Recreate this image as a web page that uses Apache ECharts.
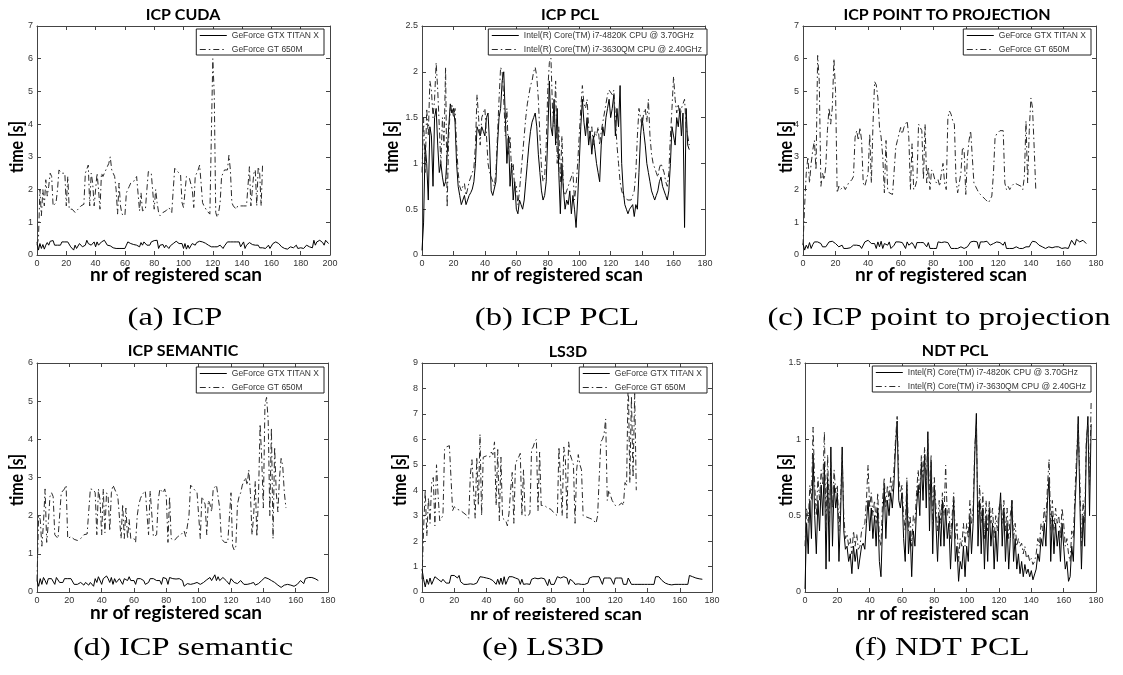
<!DOCTYPE html>
<html><head><meta charset="utf-8">
<script src="https://cdn.jsdelivr.net/npm/echarts@6/dist/echarts.min.js"></script>
<style>html,body{margin:0;padding:0;background:#fff}#c{width:1123px;height:675px}</style>
</head><body><div id="c"></div>
<script>
// ---------- series names ----------
const gpuNames = ['GeForce GTX TITAN X', 'GeForce GT 650M'];
const cpuNames = ['Intel(R) Core(TM) i7-4820K CPU @ 3.70GHz', 'Intel(R) Core(TM) i7-3630QM CPU @ 2.40GHz'];

// ---------- (a) ICP CUDA ----------
const cudaTitan = [0.40,0.15,0.35,0.20,0.32,0.18,0.30,0.38,0.30,0.42,
0.45,0.44,0.30,0.28,0.30,0.25,0.30,0.40,0.38,0.40,
0.35,0.40,0.38,0.25,0.30,0.15,0.30,0.20,0.22,0.35,
0.30,0.25,0.20,0.30,0.45,0.35,0.40,0.30,0.35,0.40,
0.25,0.40,0.30,0.25,0.40,0.35,0.45,0.42,0.30,0.35,
0.28,0.25,0.22,0.25,0.20,0.22,0.20,0.20,0.20,0.22,
0.20,0.30,0.40,0.38,0.35,0.35,0.32,0.35,0.30,0.35,
0.25,0.38,0.30,0.40,0.35,0.30,0.25,0.30,0.40,0.45,
0.44,0.42,0.45,0.20,0.30,0.25,0.32,0.22,0.30,0.25,
0.20,0.28,0.30,0.35,0.40,0.42,0.38,0.35,0.30,0.35,
0.20,0.35,0.18,0.30,0.20,0.28,0.35,0.32,0.30,0.38,
0.40,0.42,0.40,0.40,0.38,0.36,0.35,0.30,0.35,0.25,
0.20,0.25,0.30,0.25,0.22,0.30,0.28,0.20,0.28,0.30,
0.40,0.38,0.40,0.42,0.40,0.38,0.40,0.35,0.40,0.25,
0.30,0.40,0.20,0.30,0.35,0.38,0.35,0.32,0.35,0.30,
0.35,0.30,0.22,0.20,0.22,0.20,0.20,0.22,0.30,0.20,
0.25,0.35,0.38,0.40,0.40,0.35,0.30,0.25,0.22,0.20,
0.20,0.18,0.20,0.25,0.25,0.22,0.20,0.30,0.20,0.25,
0.22,0.20,0.20,0.25,0.30,0.28,0.25,0.20,0.22,0.45,
0.30,0.40,0.35,0.45,0.40,0.38,0.30,0.45,0.40,0.35];
const cudaGT = [0.3,0.5,2.0,1.2,2.0,1.5,2.3,1.8,2.1,2.5,
2.4,1.5,1.45,1.6,2.0,2.6,2.55,2.5,2.45,2.5,
1.5,2.4,1.4,1.45,1.4,1.35,1.3,1.35,1.4,1.45,
1.5,1.55,1.55,2.5,2.55,2.75,1.5,2.5,2.2,1.5,
1.45,2.5,2.0,1.4,2.5,2.4,2.5,2.6,2.7,2.8,
3.0,2.6,2.5,2.4,2.0,1.25,2.2,1.5,1.25,1.2,
1.2,1.9,2.0,2.1,2.2,2.2,2.25,2.3,2.4,2.45,
1.35,1.9,1.35,1.35,1.4,2.0,2.55,2.5,2.5,2.45,
1.4,2.0,1.6,1.3,1.2,1.25,1.3,1.3,1.35,1.4,
1.45,1.5,1.3,2.0,2.65,2.6,2.55,2.5,2.45,1.6,
1.45,1.4,2.4,2.4,2.35,2.3,2.0,1.45,2.4,2.5,
2.6,2.75,2.2,1.6,1.5,1.45,1.35,1.3,1.25,1.2,
6.0,4.9,1.3,1.15,1.3,1.6,2.4,2.5,2.6,2.55,
2.6,3.05,2.6,1.6,1.5,1.45,1.4,1.5,1.45,1.5,
1.5,1.5,1.45,1.5,1.55,2.7,1.5,2.0,2.5,2.6,
1.5,2.7,2.5,1.5,2.8];

// ---------- (b) ICP PCL ----------
const pclFast = [0.05,0.35,1.2,1.0,0.6,1.4,1.3,0.75,1.5,1.6,
1.2,0.9,1.0,0.85,0.75,0.8,1.1,1.4,1.65,1.55,
1.6,1.45,1.0,0.75,0.65,0.55,0.6,0.65,0.55,0.6,
0.65,0.68,0.72,0.8,1.0,1.4,1.35,1.3,1.4,1.35,
1.3,1.5,1.55,1.2,0.7,0.65,0.65,0.8,1.2,1.5,
1.6,1.9,2.0,1.5,1.0,1.3,0.75,1.0,0.6,0.8,
0.5,0.45,0.6,0.55,0.5,0.6,0.8,1.0,1.2,1.35,
1.45,1.5,1.55,1.4,1.1,0.9,0.7,0.6,0.65,0.8,
1.3,1.9,1.4,1.3,1.7,1.2,1.6,0.9,0.45,1.0,
0.7,0.5,0.6,0.55,0.7,0.45,0.65,0.5,0.3,0.6,
1.0,1.4,1.7,1.45,1.3,1.5,1.2,1.35,1.1,1.3,
1.15,1.0,0.9,0.8,1.2,1.4,1.3,1.5,1.6,1.7,
1.5,1.6,1.75,1.3,1.6,1.4,1.85,1.0,0.7,0.55,
0.5,0.45,0.5,0.48,0.55,0.42,0.55,0.5,0.9,1.3,
1.5,1.35,1.2,1.0,0.9,0.8,0.7,0.65,0.6,0.65,
0.7,0.8,0.85,0.75,0.7,0.65,0.6,0.7,1.0,1.4,
1.3,1.2,1.5,1.4,1.6,1.3,1.55,0.3,1.6,1.2,1.15];
const pclSlow = [0.9,1.5,0.9,1.6,1.3,1.9,1.8,1.5,1.7,2.1,
1.8,1.4,1.0,1.5,1.2,2.05,0.52,1.3,1.6,1.65,
1.5,1.6,1.2,0.9,0.75,0.7,0.75,0.78,0.65,0.72,
0.8,0.85,0.85,0.95,1.2,1.75,1.5,1.2,1.5,1.55,
1.6,1.3,1.0,0.9,0.85,0.8,0.75,0.9,1.3,1.7,
2.05,2.0,1.7,1.3,1.6,1.1,1.3,0.9,1.0,0.7,
0.75,0.55,0.7,0.9,1.1,1.3,1.5,1.65,1.75,1.85,
1.9,2.0,2.05,1.95,1.7,1.3,0.95,0.8,0.85,1.2,
1.8,2.1,2.15,1.6,1.4,1.9,1.0,1.4,0.8,1.3,
0.7,0.65,0.7,0.75,0.8,0.85,0.9,0.6,0.75,1.0,
1.3,1.6,1.85,1.65,1.6,1.7,1.4,1.3,1.4,1.2,
1.35,1.3,1.4,1.2,1.35,1.45,1.55,1.65,1.75,1.8,
1.8,1.75,1.8,1.5,1.2,1.0,0.8,0.7,0.65,0.62,
0.6,0.6,0.58,0.6,0.65,0.7,0.9,1.3,1.6,1.5,
1.4,1.55,1.6,1.45,1.7,1.3,1.1,1.0,0.95,0.9,
0.85,0.95,1.0,0.95,0.9,0.8,0.75,0.9,1.3,1.6,
1.95,1.7,1.55,1.65,1.5,1.6,1.6,1.7,1.4,1.3,1.2];

// ---------- (c) ICP point to projection ----------
const p2pTitan = [0.35,0.15,0.30,0.20,0.38,0.20,0.32,0.40,0.35,0.40,
0.38,0.35,0.25,0.25,0.25,0.30,0.40,0.40,0.42,0.40,
0.35,0.30,0.25,0.30,0.30,0.20,0.22,0.20,0.25,0.22,
0.20,0.30,0.28,0.30,0.25,0.28,0.20,0.22,0.40,0.45,
0.45,0.42,0.35,0.40,0.35,0.20,0.40,0.25,0.42,0.20,
0.35,0.40,0.30,0.40,0.20,0.25,0.30,0.40,0.38,0.40,
0.40,0.38,0.35,0.20,0.40,0.30,0.35,0.38,0.30,0.20,
0.38,0.38,0.38,0.35,0.38,0.40,0.25,0.38,0.20,0.25,
0.20,0.25,0.20,0.40,0.40,0.38,0.38,0.40,0.35,0.38,
0.35,0.20,0.20,0.20,0.22,0.20,0.20,0.25,0.30,0.20,
0.20,0.25,0.30,0.40,0.40,0.42,0.45,0.40,0.20,0.40,
0.38,0.40,0.40,0.42,0.45,0.30,0.25,0.35,0.40,0.40,
0.40,0.38,0.42,0.30,0.40,0.20,0.22,0.20,0.25,0.20,
0.20,0.25,0.20,0.20,0.25,0.20,0.22,0.25,0.20,0.25,
0.35,0.42,0.42,0.40,0.35,0.30,0.28,0.25,0.25,0.20,
0.20,0.25,0.25,0.22,0.20,0.25,0.30,0.25,0.25,0.20,
0.20,0.22,0.25,0.20,0.25,0.45,0.50,0.30,0.48,0.45,
0.40,0.35,0.45,0.40,0.35];
const p2pGT = [0.3,1.5,2.5,3.0,2.2,2.8,3.2,3.5,2.6,6.1,
5.3,2.1,2.5,2.3,2.7,3.8,4.5,4.0,4.5,6.0,
5.0,1.9,2.1,2.0,1.95,2.1,2.0,2.1,2.2,2.2,
2.3,2.4,3.6,3.8,3.5,3.9,3.5,2.2,2.1,2.3,
2.5,3.7,2.2,4.0,5.3,5.2,4.8,3.9,3.6,3.0,
1.9,3.5,2.0,1.9,1.9,1.85,1.8,3.3,3.5,3.7,
3.9,3.7,3.9,4.0,4.1,3.6,2.0,3.4,2.0,2.1,
2.3,4.0,3.9,3.8,2.3,4.0,2.2,2.7,2.0,2.6,
2.5,2.3,2.2,2.3,2.1,2.5,2.8,2.2,2.0,4.2,
4.4,4.3,4.1,4.0,2.3,1.9,1.85,2.5,3.3,3.2,
1.85,3.0,3.5,3.8,3.8,2.2,2.1,2.0,1.9,1.85,
1.8,1.75,1.7,1.65,1.6,1.65,1.8,2.5,3.6,3.7,
3.7,3.8,3.8,3.8,2.2,2.0,2.1,2.0,2.1,2.15,
2.2,2.2,2.15,2.1,2.1,2.0,2.4,4.1,2.2,3.8,
4.8,4.5,3.3,2.0];

// ---------- (d) ICP semantic ----------
const semTitan = [0.30,0.15,0.35,0.20,0.38,0.30,0.20,0.35,0.40,0.35,
0.35,0.20,0.38,0.35,0.25,0.25,0.25,0.35,0.40,0.35,
0.35,0.35,0.30,0.20,0.15,0.20,0.18,0.25,0.20,0.18,
0.25,0.22,0.18,0.25,0.20,0.15,0.35,0.25,0.40,0.35,
0.20,0.35,0.38,0.42,0.35,0.25,0.38,0.20,0.35,0.25,
0.20,0.35,0.38,0.20,0.35,0.38,0.30,0.40,0.30,0.35,
0.30,0.20,0.35,0.30,0.35,0.38,0.30,0.20,0.18,0.25,
0.35,0.32,0.35,0.38,0.30,0.35,0.30,0.20,0.38,0.35,
0.35,0.20,0.38,0.35,0.35,0.35,0.34,0.35,0.35,0.32,
0.30,0.15,0.20,0.22,0.18,0.20,0.25,0.22,0.20,0.25,
0.30,0.20,0.22,0.25,0.30,0.32,0.35,0.38,0.30,0.35,
0.45,0.30,0.40,0.30,0.35,0.38,0.35,0.30,0.35,0.20,
0.35,0.30,0.25,0.30,0.22,0.20,0.30,0.25,0.20,0.18,
0.20,0.15,0.22,0.20,0.25,0.18,0.20,0.22,0.25,0.30,
0.35,0.38,0.38,0.35,0.32,0.30,0.28,0.25,0.20,0.18,
0.15,0.12,0.15,0.18,0.15,0.20,0.15,0.18,0.20,0.15,
0.12,0.20,0.25,0.30,0.35,0.22,0.35,0.30,0.38,0.35,
0.38,0.42,0.35,0.40,0.30];
const semGT = [0.3,2.0,1.9,1.2,1.8,2.7,1.3,1.8,2.5,2.6,
2.5,1.5,1.45,1.4,1.45,2.6,2.65,2.7,2.8,1.4,
1.4,1.45,1.4,1.38,1.35,1.35,1.35,1.4,1.45,1.5,
1.55,1.52,1.5,2.7,2.7,2.68,2.6,1.5,2.7,2.4,
1.5,2.7,1.55,2.6,2.5,1.6,2.6,2.8,2.7,2.6,
2.5,2.45,1.4,2.3,1.4,2.2,1.4,1.9,1.4,1.45,
1.4,1.3,2.0,2.3,2.45,2.55,2.6,2.65,2.7,1.5,
2.65,2.6,1.45,1.45,1.5,2.4,2.7,2.65,2.6,2.7,
2.5,1.3,2.5,1.4,1.4,1.35,1.4,1.45,1.4,1.5,
1.55,1.6,1.45,1.4,2.0,2.8,2.75,2.7,2.75,2.6,
2.6,1.4,2.5,2.4,2.3,1.5,2.4,2.3,2.1,2.7,
2.75,2.8,2.75,2.2,1.4,1.35,1.3,1.25,1.3,1.25,
2.6,1.2,1.1,1.2,2.3,2.5,2.6,2.8,2.9,3.0,
2.8,3.2,2.6,1.5,2.0,2.9,1.45,2.5,4.4,3.5,
2.2,4.9,5.1,4.5,2.0,4.3,1.4,3.8,2.6,2.1,
3.0,3.5,3.3,2.6,2.2];

// ---------- (e) LS3D ----------
const ls3dTitan = [0.90,0.50,0.20,0.50,0.30,0.55,0.30,0.35,0.60,0.55,
0.50,0.55,0.40,0.50,0.45,0.35,0.35,0.35,0.65,0.65,
0.65,0.60,0.55,0.65,0.40,0.35,0.30,0.35,0.30,0.30,
0.32,0.30,0.30,0.30,0.35,0.30,0.60,0.55,0.58,0.55,
0.55,0.50,0.52,0.50,0.45,0.40,0.30,0.50,0.30,0.55,
0.30,0.60,0.30,0.45,0.60,0.62,0.60,0.60,0.55,0.60,
0.50,0.30,0.50,0.30,0.30,0.32,0.30,0.30,0.50,0.50,
0.55,0.50,0.52,0.55,0.55,0.50,0.52,0.50,0.25,0.50,
0.30,0.35,0.30,0.30,0.60,0.58,0.55,0.50,0.60,0.55,
0.55,0.30,0.50,0.55,0.40,0.30,0.30,0.32,0.35,0.30,
0.30,0.30,0.35,0.35,0.55,0.58,0.60,0.58,0.60,0.58,
0.60,0.58,0.30,0.55,0.58,0.55,0.58,0.55,0.60,0.30,
0.55,0.58,0.55,0.55,0.55,0.30,0.35,0.30,0.55,0.50,
0.30,0.35,0.30,0.30,0.30,0.30,0.30,0.30,0.30,0.30,
0.30,0.30,0.30,0.30,0.30,0.60,0.65,0.60,0.55,0.45,
0.40,0.35,0.35,0.30,0.30,0.28,0.30,0.30,0.30,0.30,
0.30,0.30,0.30,0.30,0.30,0.30,0.65,0.62,0.60,0.58,
0.55,0.55,0.52,0.50,0.50];
const ls3dGT = [0.5,2.5,4.0,2.2,3.7,2.7,4.3,4.5,2.6,5.0,
3.8,2.8,2.9,3.0,5.6,5.7,5.75,5.75,5.7,3.2,
3.35,3.3,3.25,3.2,3.2,3.15,3.1,3.05,3.0,2.9,
4.6,5.2,5.25,2.9,5.3,3.4,6.2,3.0,5.3,5.3,
5.35,5.4,5.3,5.5,5.4,5.9,3.4,5.6,2.8,5.3,
2.9,2.9,2.8,2.6,3.1,4.0,4.7,2.7,5.0,5.2,
5.3,5.45,3.0,4.8,3.0,2.95,3.0,3.1,5.6,5.7,
5.9,6.0,3.2,5.5,3.4,3.45,3.4,3.35,3.3,3.3,
3.25,3.2,3.1,3.05,3.0,5.7,5.7,3.0,5.7,5.2,
2.9,5.9,5.4,5.2,5.0,2.7,4.8,5.4,5.0,4.8,
3.0,3.0,2.95,2.95,2.9,2.9,2.85,2.8,2.7,3.0,
4.5,5.9,6.0,6.2,6.8,3.6,4.0,3.8,3.6,3.5,
3.4,3.35,3.4,3.4,3.5,3.4,4.3,4.2,8.5,4.3,
7.7,4.5,7.8,4.0];

// ---------- (f) NDT PCL ----------
const ndtFast = [0.02,0.45,0.25,0.6,0.35,0.9,0.5,0.25,0.6,0.4,
0.7,0.5,0.85,0.15,0.75,0.2,0.95,0.3,0.7,0.55,
0.65,0.2,0.5,0.95,0.4,0.28,0.3,0.2,0.25,0.12,
0.3,0.2,0.28,0.15,0.14,0.3,0.32,0.28,0.45,0.6,
0.4,0.55,0.35,0.5,0.3,0.55,0.2,0.1,0.45,0.7,
0.35,0.6,0.5,0.65,0.55,0.7,0.95,1.12,0.6,0.55,
0.65,0.35,0.2,0.7,0.25,0.4,0.1,0.4,0.3,0.55,
0.7,0.5,0.85,0.6,0.9,0.55,1.05,0.4,0.85,0.25,
0.7,0.45,0.2,0.5,0.3,0.6,0.3,0.55,0.35,0.45,
0.15,0.4,0.6,0.2,0.3,0.07,0.2,0.15,0.3,0.1,
0.3,0.2,0.5,0.25,0.45,0.9,1.17,0.3,0.6,0.25,
0.55,0.15,0.5,0.2,0.55,0.3,0.45,0.15,0.4,0.2,
0.5,0.65,0.3,0.55,0.2,0.45,0.15,0.35,0.6,0.2,
0.35,0.15,0.25,0.12,0.2,0.1,0.18,0.12,0.15,0.1,
0.14,0.08,0.07,0.15,0.25,0.2,0.35,0.3,0.45,0.3,
0.6,0.75,0.2,0.5,0.25,0.45,0.3,0.4,0.2,0.45,
0.3,0.15,0.2,0.07,0.1,0.3,0.2,0.55,0.8,1.15,
0.6,0.15,0.5,0.3,0.95,1.15,0.5,1.1];
const ndtSlow = [0.3,0.55,0.45,0.7,0.6,1.08,0.7,0.5,0.75,0.6,
0.8,0.7,1.05,0.4,0.9,0.45,0.85,0.55,0.8,0.65,
0.7,0.4,0.6,0.9,0.5,0.35,0.38,0.3,0.35,0.25,
0.4,0.3,0.38,0.28,0.3,0.4,0.4,0.45,0.6,0.83,
0.55,0.65,0.5,0.6,0.45,0.65,0.35,0.3,0.6,0.75,
0.55,0.7,0.6,0.75,0.65,0.8,1.0,1.15,0.75,0.65,
0.7,0.5,0.4,0.75,0.4,0.5,0.3,0.5,0.45,0.65,
0.8,0.65,0.9,0.75,0.95,0.7,1.0,0.6,0.9,0.45,
0.75,0.55,0.4,0.6,0.45,0.65,0.5,0.83,0.5,0.55,
0.35,0.5,0.65,0.35,0.45,0.2,0.35,0.3,0.45,0.3,
0.45,0.35,0.6,0.45,0.55,0.95,1.1,0.45,0.7,0.45,
0.65,0.35,0.6,0.4,0.6,0.45,0.55,0.35,0.5,0.4,
0.55,0.6,0.45,0.6,0.4,0.55,0.35,0.5,0.6,0.35,
0.45,0.3,0.35,0.3,0.32,0.25,0.3,0.22,0.25,0.2,
0.22,0.18,0.2,0.25,0.35,0.3,0.45,0.4,0.55,0.45,
0.7,0.87,0.4,0.6,0.4,0.55,0.45,0.5,0.35,0.55,
0.45,0.3,0.35,0.25,0.2,0.4,0.35,0.65,0.9,1.1,
0.75,0.3,0.6,0.45,1.0,1.1,0.7,1.25];

// ---------- panel definitions (text + axis ranges) ----------
const panels = [
  {title:'ICP CUDA', caption:'(a) ICP', names:gpuNames, a:cudaTitan, b:cudaGT, xMax:200, yMax:7, yStep:1},
  {title:'ICP PCL', caption:'(b) ICP PCL', names:cpuNames, a:pclFast, b:pclSlow, xMax:180, yMax:2.5, yStep:0.5},
  {title:'ICP POINT TO PROJECTION', caption:'(c) ICP point to projection', names:gpuNames, a:p2pTitan, b:p2pGT, xMax:180, yMax:7, yStep:1},
  {title:'ICP SEMANTIC', caption:'(d) ICP semantic', names:gpuNames, a:semTitan, b:semGT, xMax:180, yMax:6, yStep:1},
  {title:'LS3D', caption:'(e) LS3D', names:gpuNames, a:ls3dTitan, b:ls3dGT, xMax:180, yMax:9, yStep:1},
  {title:'NDT PCL', caption:'(f) NDT PCL', names:cpuNames, a:ndtFast, b:ndtSlow, xMax:180, yMax:1.5, yStep:0.5}
];
const xLabel = 'nr of registered scan';
const yLabel = 'time [s]';

// ---------- layout (pixels) ----------
const layout = [
  {l:37, t:26, w:293, h:229, lr:799, lt:29, tx:183, ty:15, xnx:176, xny:275, ynx:17, yny:147, cx:175, cy:318},
  {l:422, t:26, w:283, h:229, lr:416, lt:29, tx:570, ty:15, xnx:557, xny:275, ynx:392, yny:147, cx:557, cy:318},
  {l:803, t:26, w:293, h:229, lr:32, lt:29, tx:947, ty:15, xnx:941, xny:275, ynx:786, yny:147, cx:939, cy:318},
  {l:37, t:363, w:291, h:229, lr:799, lt:367, tx:183, ty:351, xnx:176, xny:613, ynx:17, yny:480, cx:183, cy:648},
  {l:422, t:363, w:290, h:229, lr:416, lt:367, tx:568, ty:352, xnx:556, xny:615, ynx:400, yny:480, cx:543, cy:648},
  {l:805, t:363, w:291, h:229, lr:32, lt:366, tx:955, ty:351, xnx:943, xny:614, ynx:786, yny:480, cx:942, cy:648}
];

const axisColor = '#444';
const dashDot = [6, 3, 1.5, 3];
const toPairs = arr => arr.map((v, i) => [i, v]);

const grid = [], xAxis = [], yAxis = [], series = [], legend = [], graphic = [];
panels.forEach((p, i) => {
  const L = layout[i];
  grid.push({left:L.l, top:L.t, width:L.w, height:L.h, containLabel:false});
  const common = {type:'value', gridIndex:i, splitLine:{show:false},
    axisLine:{show:true, onZero:false, lineStyle:{color:axisColor, width:1}},
    axisTick:{show:true, inside:true, length:4, lineStyle:{color:axisColor}}};
  xAxis.push(Object.assign({}, common, {position:'bottom', min:0, max:p.xMax, interval:20,
    axisLabel:{show:true, fontSize:9, color:'#333', fontFamily:'Liberation Sans', margin:4}}));
  xAxis.push(Object.assign({}, common, {position:'top', min:0, max:p.xMax, interval:20, axisLabel:{show:false}}));
  yAxis.push(Object.assign({}, common, {position:'left', min:0, max:p.yMax, interval:p.yStep,
    axisLabel:{show:true, fontSize:9, color:'#333', fontFamily:'Liberation Sans', margin:4}}));
  yAxis.push(Object.assign({}, common, {position:'right', min:0, max:p.yMax, interval:p.yStep, axisLabel:{show:false}}));
  series.push({type:'line', name:p.names[0], xAxisIndex:2*i, yAxisIndex:2*i, data:toPairs(p.a),
    symbol:'none', showSymbol:false, lineStyle:{color:'#000', width:1, type:'solid'}, itemStyle:{color:'#000'}, z:2});
  series.push({type:'line', name:p.names[1], xAxisIndex:2*i, yAxisIndex:2*i, data:toPairs(p.b),
    symbol:'none', showSymbol:false, lineStyle:{color:'#2a2a2a', width:1, type:dashDot}, itemStyle:{color:'#2a2a2a'}, z:3});
  legend.push({orient:'vertical', right:L.lr, top:L.lt, data:p.names, selectedMode:false,
    itemWidth:27, itemHeight:10, itemGap:5, padding:[2,5,1,3],
    itemStyle:{opacity:0, borderWidth:0, color:'rgba(0,0,0,0)'},
    lineStyle:{width:1},
    borderColor:'#222', borderWidth:1, backgroundColor:'#fff',
    textStyle:{fontSize:8.5, color:'#333', fontFamily:'Liberation Sans'}});
  graphic.push({type:'text', x:L.tx, y:L.ty, z:100, style:{text:p.title, fontFamily:'Lato', fontWeight:'bold', fontSize:16,
    fill:'#000', textAlign:'center', textVerticalAlign:'middle', verticalAlign:'middle'}});
  graphic.push({type:'text', x:L.xnx, y:L.xny, z:100, style:{text:xLabel, fontFamily:'Lato', fontWeight:'bold', fontSize:19,
    fill:'#000', textAlign:'center', textVerticalAlign:'middle', verticalAlign:'middle'}});
  graphic.push({type:'text', x:L.ynx, y:L.yny, rotation:Math.PI/2, scaleY:1.2, z:100, style:{text:yLabel, fontFamily:'Lato', fontWeight:'bold', fontSize:16,
    fill:'#000', textAlign:'center', textVerticalAlign:'middle', verticalAlign:'middle'}});
  graphic.push({type:'text', x:L.cx, y:L.cy, scaleX:1.3, z:100, style:{text:p.caption, fontFamily:'Liberation Serif', fontSize:25,
    fill:'#000', textAlign:'center', textVerticalAlign:'middle', verticalAlign:'middle'}});
});
// the bottom row's axis titles are cropped in the source figure
graphic.push({type:'rect', shape:{x:380, y:620, width:743, height:12}, style:{fill:'#fff'}, z:110});

const chart = echarts.init(document.getElementById('c'), null, {renderer:'canvas'});
chart.setOption({animation:false, backgroundColor:'#fff', grid, xAxis, yAxis, series, legend, graphic});
</script>
</body></html>
